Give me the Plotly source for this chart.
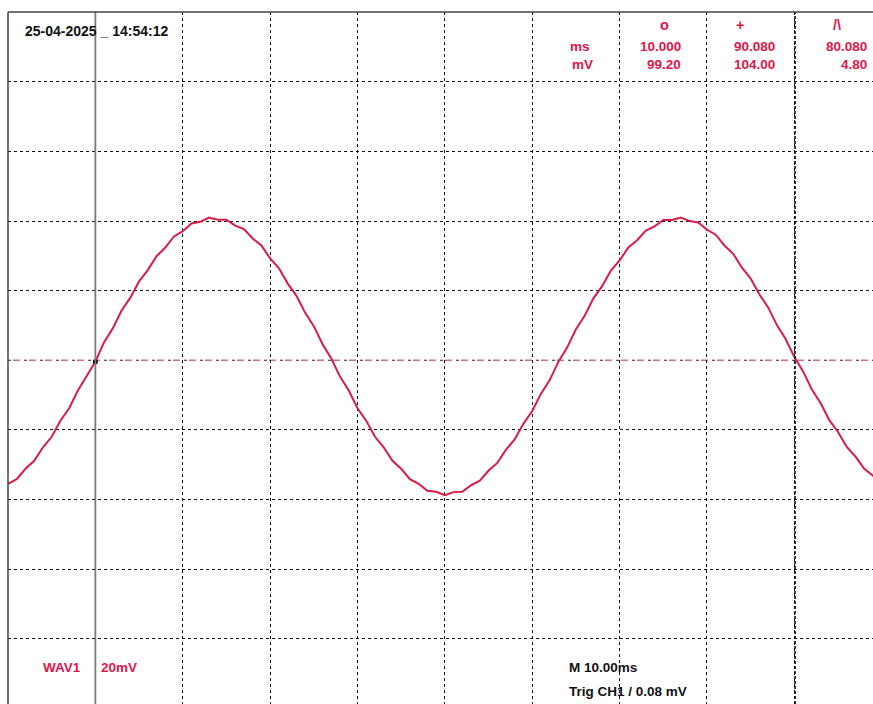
import plotly.graph_objects as go

# Time base: 10 ms per division, vertical: 20 mV per division
time_ms = list(range(0, 101))
wave_mv = [
    -35.5, -34.2, -31.2, -28.9, -25.0, -22.0, -17.4, -13.8, -8.7, -4.7,
    -0.4, 5.2, 9.2, 14.3, 18.0, 22.7, 25.9, 29.9, 32.4, 35.6,
    37.1, 39.3, 39.8, 41.0, 40.4, 40.4, 38.7, 37.7, 35.0, 33.0,
    29.3, 26.5, 22.1, 18.6, 13.7, 9.8, 4.6, 0.5, -4.7, -8.7,
    -13.8, -17.4, -22.0, -25.0, -28.9, -31.2, -34.2, -35.5, -37.5, -37.8,
    -38.8, -37.9, -37.8, -35.9, -34.6, -31.7, -29.5, -25.7, -22.7, -18.2,
    -14.6, -9.6, -5.7, -0.4, 3.7, 8.9, 12.8, 17.8, 21.3, 25.8,
    28.7, 32.4, 34.5, 37.3, 38.5, 40.3, 40.3, 41.0, 40.0, 39.6,
    37.5, 36.1, 33.0, 30.6, 26.6, 23.5, 18.9, 15.2, 10.1, 6.1,
    0.9, -3.2, -8.4, -12.3, -17.2, -20.6, -24.9, -27.7, -31.2, -33.2,
    -35.8,
]

x_grid = [20, 30, 40, 50, 60, 70, 80, 90]
y_grid = [-100, -80, -60, -40, -20, 20, 40, 60, 80, 100]

cursor_o_ms = 10.000
cursor_plus_ms = 90.080

date_text = "25-04-2025 _ 14:54:12"
cursor_headers = ["o", "+", "/\\"]
row_units = ["ms", "mV"]
ms_values = ["10.000", "90.080", "80.080"]
mv_values = ["99.20", "104.00", "4.80"]
channel_label = "WAV1"
channel_scale = "20mV"
timebase_label = "M 10.00ms"
trigger_label = "Trig CH1 / 0.08 mV"

RED = "#e0164a"
TRACE = "#d81b4a"
FONT = "Liberation Sans, Arial, sans-serif"

X_MAX = 99.0
Y_MIN, Y_MAX = -98.8, 100.1

fig = go.Figure()

fig.add_trace(go.Scatter(
    x=time_ms, y=wave_mv, mode="lines",
    line=dict(color=TRACE, width=2.0),
    hoverinfo="skip", showlegend=False,
))

# cursor marker on the trace
fig.add_trace(go.Scatter(
    x=[time_ms[10]], y=[wave_mv[10]], mode="markers",
    marker=dict(color="black", size=5),
    hoverinfo="skip", showlegend=False,
))

shapes = []
# centre line: alternating black / pink dashes
shapes.append(dict(type="line", xref="x", yref="y", x0=0, x1=X_MAX, y0=0, y1=0,
                   line=dict(color="#cf6f8e", width=1.5, dash="0px,5px,7px,4px"), layer="below"))
shapes.append(dict(type="line", xref="x", yref="y", x0=0, x1=X_MAX, y0=0, y1=0,
                   line=dict(color="#222222", width=1.2, dash="3px,13px"), layer="below"))
# cursors
shapes.append(dict(type="line", xref="x", yref="paper", x0=cursor_o_ms, x1=cursor_o_ms, y0=0, y1=1,
                   line=dict(color="#7a7a7a", width=1.8)))
shapes.append(dict(type="line", xref="x", yref="paper", x0=cursor_plus_ms, x1=cursor_plus_ms, y0=0, y1=1,
                   line=dict(color="#111111", width=1.6, dash="3px,2px")))
# frame (left and top)
shapes.append(dict(type="line", xref="paper", yref="paper", x0=0, x1=0, y0=0, y1=1,
                   line=dict(color="#444444", width=1.5)))
shapes.append(dict(type="line", xref="paper", yref="paper", x0=0, x1=1, y0=1, y1=1,
                   line=dict(color="#444444", width=1.5)))

annotations = []


def label(text, x, y, anchor, color=RED, size=13.5):
    annotations.append(dict(
        text=text, x=x, y=y, xref="x", yref="y", xanchor=anchor, yanchor="middle",
        showarrow=False, font=dict(family=FONT, size=size, color=color, weight="bold"),
    ))


label(date_text, 1.7, 94.7, "left", color="#111111", size=14)

for text, xc in zip(cursor_headers, [75.08, 83.78, 94.89]):
    label(text, xc, 96.3, "center", size=14.5)

label(row_units[0], 66.8, 90.1, "right")
label(row_units[1], 67.2, 84.9, "right")
for text, xr in zip(ms_values, [77.3, 88.0, 98.55]):
    label(text, xr, 90.1, "right")
for text, xr in zip(mv_values, [77.3, 88.0, 98.55]):
    label(text, xr, 84.9, "right")

label(channel_label, 3.8, -88.2, "left")
label(channel_scale, 10.4, -88.2, "left")
label(timebase_label, 64.0, -88.2, "left", color="#111111")
label(trigger_label, 64.0, -95.1, "left", color="#111111")

fig.update_layout(
    width=873, height=704,
    margin=dict(l=8, r=0, t=12, b=0),
    paper_bgcolor="white", plot_bgcolor="white",
    shapes=shapes, annotations=annotations,
    xaxis=dict(
        range=[0, X_MAX], tickvals=x_grid, showticklabels=False, ticks="",
        showgrid=True, gridcolor="#111111", gridwidth=1, griddash="3px,3px",
        zeroline=False, showline=False, fixedrange=True,
    ),
    yaxis=dict(
        range=[Y_MIN, Y_MAX], tickvals=y_grid, showticklabels=False, ticks="",
        showgrid=True, gridcolor="#111111", gridwidth=1, griddash="3px,3px",
        zeroline=False, showline=False, fixedrange=True,
    ),
)

fig.write_html("out.html", config={"displayModeBar": False})
